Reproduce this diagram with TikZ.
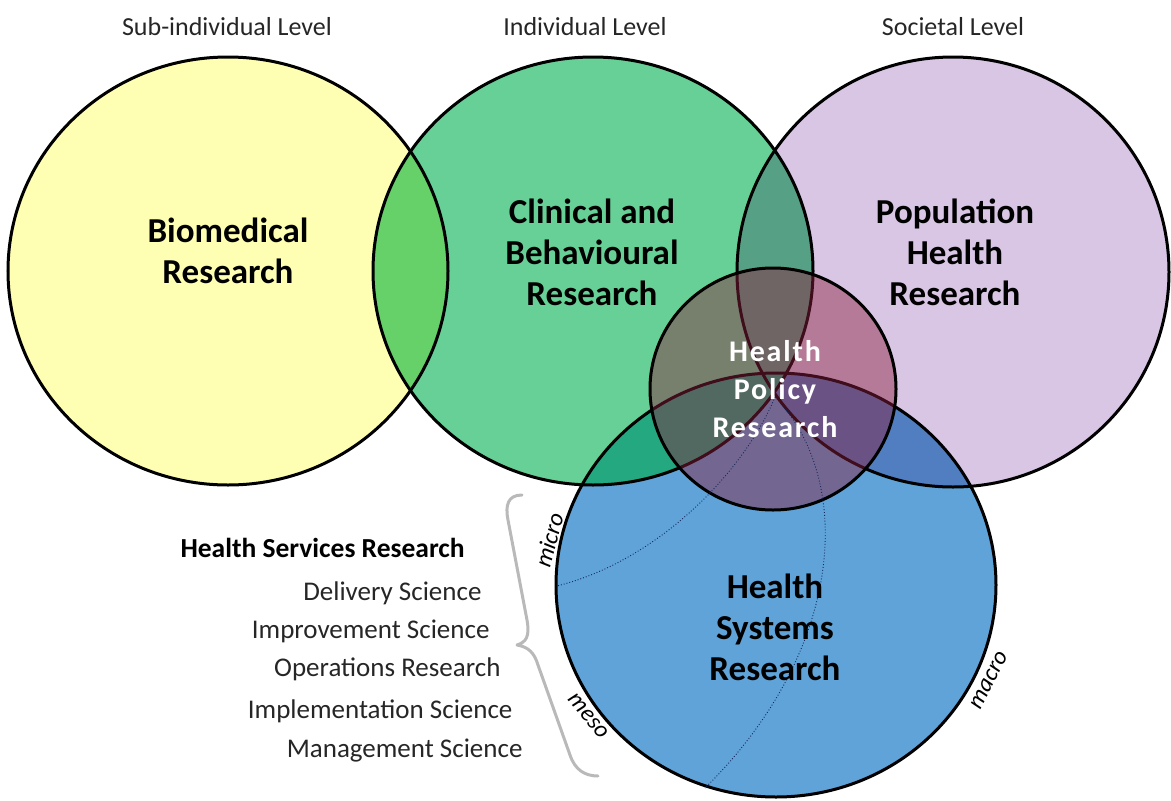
\documentclass[tikz,border=0pt]{standalone}
\usepackage{fontspec}
\setmainfont{Carlito}
\usetikzlibrary{positioning}

\definecolor{bioyellow}{HTML}{FFFFB3}
\definecolor{clingreen}{HTML}{66D096}
\definecolor{poppurple}{HTML}{D8C6E4}
\definecolor{sysblue}{HTML}{5FA3D8}
\definecolor{lensgreen}{RGB}{35,168,128}
\definecolor{polred}{RGB}{140,30,60}
\definecolor{dotblue}{RGB}{20,40,90}

\tikzset{
  ring/.style={draw=black, line width=3pt},
  leveltext/.style={font=\fontsize{26}{30}\selectfont, text=black!85},
  maintext/.style={font=\bfseries\fontsize{35}{41}\selectfont, align=center},
  policytext/.style={font=\bfseries\fontsize{30}{38}\selectfont\addfontfeature{LetterSpace=6}, align=center, text=white},
  listtext/.style={font=\fontsize{27}{30}\selectfont, text=black!85, anchor=east},
  scaletext/.style={font=\itshape\fontsize{24}{26}\selectfont},
  splitline/.style={dotted, line width=0.9pt, draw=dotblue},
}

\begin{document}
\begin{tikzpicture}[x=1pt, y=-1pt]
    \useasboundingbox (0,0) rectangle (1171,801);

    % Circles
    \coordinate (bio) at (228,271);
    \coordinate (clin) at (593,271);
    \coordinate (pop) at (953,272);
    \coordinate (sys) at (776,585);
    \coordinate (pol) at (773,389);

    \begin{scope}[blend group=multiply]
        \fill[bioyellow] (bio) circle [x radius=220, y radius=214];
        \fill[clingreen] (clin) circle [x radius=220, y radius=214];
        \fill[poppurple] (pop) circle [x radius=216, y radius=215];
        \fill[sysblue] (sys) circle [x radius=220, y radius=212];
    \end{scope}
    \begin{scope}
        \clip (clin) circle [x radius=220, y radius=214];
        \fill[lensgreen] (sys) circle [x radius=220, y radius=212];
    \end{scope}
    \draw[ring] (bio) circle [x radius=220, y radius=214];
    \draw[ring] (clin) circle [x radius=220, y radius=214];
    \draw[ring] (pop) circle [x radius=216, y radius=215];
    \draw[ring] (sys) circle [x radius=220, y radius=212];

    \fill[polred, fill opacity=0.45] (pol) circle [x radius=123, y radius=121];
    \draw[ring] (pol) circle [x radius=123, y radius=121];

    % Dotted splits
    \coordinate (tp) at (775,397);
    \coordinate (microend) at (557,586);
    \coordinate (mesoend) at (705,788);
    \draw[splitline] (tp) .. controls (745,470) and (660,560) .. (microend);
    \draw[splitline] (tp) .. controls (855,480) and (845,650) .. (mesoend);

    % Brace
    \draw[gray!55, line width=3pt, line cap=round, line join=round]
        (522,495) .. controls (508,495) and (505,505) .. (508,520)
        -- (527,620) .. controls (530,637) and (526,642) .. (517,645)
        .. controls (528,647) and (534,652) .. (538,665)
        -- (570,755) .. controls (575,770) and (585,776) .. (598,776);

    % Labels
    \node[leveltext] (sublevel) at (227,27) {Sub-individual Level};
    \node[leveltext] (indlevel) at (585,27) {Individual Level};
    \node[leveltext] (soclevel) at (953,27) {Societal Level};

    \node[maintext] (biotext) at (228,251) {Biomedical\\Research};
    \node[maintext] (clintext) at (592,252) {Clinical and\\Behavioural\\Research};
    \node[maintext] (poptext) at (955,252) {Population\\Health\\Research};
    \node[policytext] (poltext) at (775,389) {Health\\Policy\\Research};
    \node[maintext] (systext) at (775,627) {Health\\Systems\\Research};

    \node[font=\bfseries\fontsize{27.5}{30}\selectfont, anchor=west] (hsr) at (177,548) {Health Services Research};
    \node[listtext] (delivery) at (485,593) {Delivery Science};
    \node[listtext] (improve) at (493,631) {Improvement Science};
    \node[listtext] (operate) at (504,669) {Operations Research};
    \node[listtext] (implement) at (516,711) {Implementation Science};
    \node[listtext] (manage) at (526,751) {Management Science};

    \node[scaletext, rotate=75] (micro) at (549,540) {micro};
    \node[scaletext, rotate=-50] (meso) at (588,716) {meso};
    \node[scaletext, rotate=63] (macro) at (989,680) {macro};
\end{tikzpicture}
\end{document}
